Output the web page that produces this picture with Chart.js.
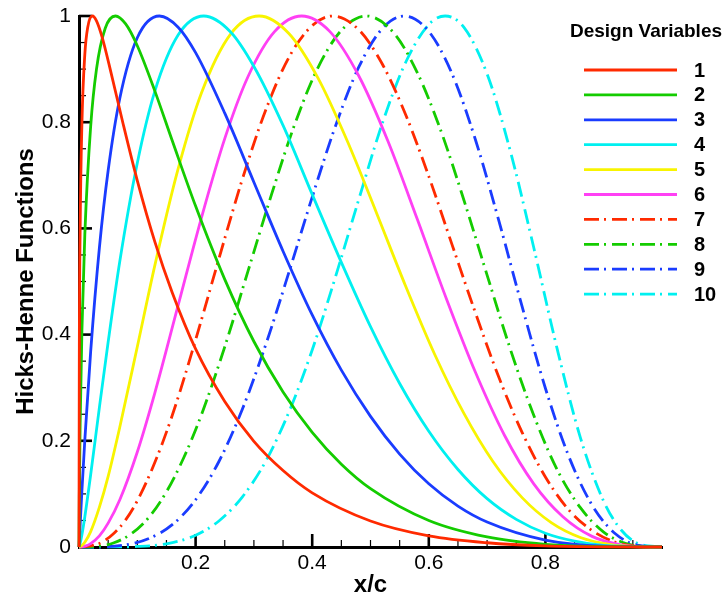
<!DOCTYPE html>
<html>
<head>
<meta charset="utf-8">
<script src="https://cdn.jsdelivr.net/npm/chart.js@4.4.0/dist/chart.umd.min.js"></script>
<style>
  html, body { margin: 0; padding: 0; background: #fff; }
  #wrap { width: 725px; height: 599px; }
</style>
</head>
<body>
<div id="wrap"><canvas id="hh" width="725" height="599"></canvas></div>
<script>
// Hicks-Henne bump functions, one series per design variable (x/c, f)
const x1 = [0, 0.0005, 0.002, 0.005, 0.01, 0.015, 0.023, 0.03, 0.04, 0.055, 0.075, 0.1, 0.13, 0.16, 0.2, 0.25, 0.3, 0.35, 0.4, 0.5, 0.6, 0.7, 0.8, 0.9, 1];
const f1 = [0, 0.345, 0.599, 0.797, 0.928, 0.979, 1, 0.991, 0.959, 0.893, 0.800, 0.690, 0.575, 0.479, 0.373, 0.274, 0.199, 0.144, 0.102, 0.049, 0.021, 0.008, 0.002, 0.0002, 0];

const x2 = [0, 0.0005, 0.002, 0.005, 0.01, 0.02, 0.03, 0.045, 0.0625, 0.08, 0.1, 0.13, 0.16, 0.2, 0.25, 0.3, 0.35, 0.4, 0.45, 0.5, 0.6, 0.7, 0.8, 0.9, 1];
const f2 = [0, 0.093, 0.234, 0.408, 0.589, 0.792, 0.900, 0.977, 1, 0.985, 0.944, 0.859, 0.765, 0.642, 0.504, 0.387, 0.292, 0.216, 0.156, 0.110, 0.050, 0.019, 0.005, 0.0005, 0];

const x3 = [0, 0.001, 0.005, 0.01, 0.02, 0.035, 0.05, 0.07, 0.1, 0.138, 0.17, 0.2, 0.25, 0.3, 0.35, 0.4, 0.45, 0.5, 0.55, 0.6, 0.65, 0.7, 0.8, 0.9, 1];
const f3 = [0, 0.021, 0.106, 0.202, 0.368, 0.564, 0.709, 0.845, 0.959, 1, 0.979, 0.931, 0.817, 0.687, 0.557, 0.437, 0.333, 0.246, 0.175, 0.119, 0.077, 0.047, 0.013, 0.0015, 0];

const x4 = [0, 0.002, 0.005, 0.01, 0.02, 0.035, 0.05, 0.07, 0.1, 0.13, 0.17, 0.214, 0.26, 0.3, 0.35, 0.4, 0.45, 0.5, 0.55, 0.6, 0.65, 0.7, 0.75, 0.8, 0.85, 0.9, 1];
const f4 = [0, 0.007, 0.023, 0.057, 0.136, 0.263, 0.386, 0.538, 0.723, 0.858, 0.964, 1, 0.970, 0.905, 0.794, 0.664, 0.536, 0.415, 0.308, 0.218, 0.146, 0.091, 0.052, 0.026, 0.011, 0.003, 0];

const x5 = [0, 0.005, 0.01, 0.02, 0.035, 0.05, 0.07, 0.1, 0.13, 0.17, 0.21, 0.26, 0.309, 0.36, 0.41, 0.46, 0.51, 0.56, 0.61, 0.66, 0.71, 0.76, 0.81, 0.86, 0.91, 0.96, 1];
const f5 = [0, 0.003, 0.009, 0.029, 0.075, 0.133, 0.226, 0.377, 0.530, 0.712, 0.855, 0.966, 1, 0.967, 0.883, 0.765, 0.630, 0.492, 0.363, 0.252, 0.161, 0.093, 0.046, 0.018, 0.005, 0.0004, 0];

const x6 = [0, 0.01, 0.02, 0.035, 0.05, 0.07, 0.1, 0.13, 0.17, 0.21, 0.25, 0.29, 0.335, 0.382, 0.43, 0.48, 0.53, 0.58, 0.63, 0.68, 0.73, 0.78, 0.83, 0.88, 0.93, 0.97, 1];
const f6 = [0, 0.0015, 0.0065, 0.021, 0.045, 0.089, 0.179, 0.290, 0.455, 0.620, 0.769, 0.886, 0.970, 1, 0.971, 0.887, 0.764, 0.618, 0.468, 0.329, 0.210, 0.119, 0.057, 0.020, 0.004, 0.0003, 0];

const x7 = [0, 0.02, 0.04, 0.06, 0.08, 0.1, 0.13, 0.16, 0.2, 0.24, 0.28, 0.32, 0.36, 0.4, 0.436, 0.48, 0.52, 0.56, 0.6, 0.64, 0.68, 0.72, 0.76, 0.8, 0.84, 0.88, 0.92, 0.96, 1];
const f7 = [0, 0.002, 0.0095, 0.026, 0.051, 0.087, 0.159, 0.248, 0.390, 0.543, 0.692, 0.822, 0.922, 0.982, 1, 0.974, 0.910, 0.815, 0.698, 0.569, 0.441, 0.320, 0.216, 0.132, 0.070, 0.031, 0.009, 0.001, 0];

const x8 = [0, 0.03, 0.06, 0.09, 0.12, 0.15, 0.18, 0.21, 0.25, 0.29, 0.33, 0.37, 0.41, 0.45, 0.493, 0.54, 0.58, 0.62, 0.66, 0.7, 0.74, 0.78, 0.82, 0.86, 0.9, 0.94, 0.97, 1];
const f8 = [0, 0.001, 0.008, 0.025, 0.056, 0.104, 0.169, 0.249, 0.377, 0.520, 0.663, 0.796, 0.903, 0.973, 1, 0.968, 0.894, 0.786, 0.654, 0.512, 0.372, 0.248, 0.146, 0.074, 0.028, 0.006, 0.001, 0];

const x9 = [0, 0.04, 0.08, 0.12, 0.16, 0.2, 0.24, 0.28, 0.32, 0.36, 0.4, 0.44, 0.48, 0.52, 0.558, 0.6, 0.64, 0.68, 0.72, 0.76, 0.8, 0.84, 0.88, 0.92, 0.96, 1];
const f9 = [0, 0.0003, 0.004, 0.016, 0.042, 0.089, 0.161, 0.259, 0.380, 0.517, 0.659, 0.793, 0.904, 0.976, 1, 0.971, 0.891, 0.767, 0.615, 0.453, 0.299, 0.171, 0.079, 0.025, 0.003, 0];

const x10 = [0, 0.05, 0.1, 0.15, 0.2, 0.24, 0.28, 0.32, 0.36, 0.4, 0.44, 0.48, 0.52, 0.56, 0.6, 0.628, 0.66, 0.7, 0.74, 0.78, 0.82, 0.86, 0.9, 0.93, 0.96, 1];
const f10 = [0, 0.0001, 0.001, 0.006, 0.022, 0.049, 0.094, 0.161, 0.254, 0.371, 0.509, 0.655, 0.797, 0.912, 0.984, 1, 0.979, 0.891, 0.745, 0.564, 0.374, 0.206, 0.086, 0.032, 0.006, 0];

const variableNames = ['1', '2', '3', '4', '5', '6', '7', '8', '9', '10'];
const xTickLabels = ['', '0.2', '0.4', '0.6', '0.8', ''];
const yTickLabels = ['0', '0.2', '0.4', '0.6', '0.8', '1'];

const FONT = '"Liberation Sans", Arial, Helvetica, sans-serif';
const colors = ['#ff2a00', '#14cc00', '#1a3cff', '#00f0f0', '#f8f400', '#ff40f4',
                '#ff2a00', '#14cc00', '#1a3cff', '#00f0f0'];
const dashDot = [15, 5, 2, 6];

const xs = [x1, x2, x3, x4, x5, x6, x7, x8, x9, x10];
const fs = [f1, f2, f3, f4, f5, f6, f7, f8, f9, f10];

const datasets = variableNames.map((name, i) => ({
    label: name,
    data: xs[i].map((x, k) => ({ x, y: fs[i][k] })),
    borderColor: colors[i],
    borderWidth: 2.8,
    borderDash: i >= 6 ? dashDot : [],
    pointRadius: 0,
    cubicInterpolationMode: 'monotone',
    fill: false,
    clip: 6
}));

// inward ticks, axis titles and the legend block
const decor = {
    id: 'decor',
    beforeDatasetsDraw(chart) {
        const { ctx, scales: { x, y } } = chart;
        ctx.save();
        ctx.strokeStyle = '#000';
        for (let i = 1; i < 20; i++) {
            const major = i % 4 === 0;
            const px = x.getPixelForValue(i * 0.05);
            ctx.lineWidth = major ? 2.6 : 1.2;
            ctx.beginPath();
            ctx.moveTo(px, y.bottom);
            ctx.lineTo(px, y.bottom - (major ? 13 : 7));
            ctx.stroke();
        }
        for (let i = 1; i <= 20; i++) {
            const major = i % 4 === 0;
            const py = y.getPixelForValue(i * 0.05);
            ctx.lineWidth = major ? 2.6 : 1.2;
            ctx.beginPath();
            ctx.moveTo(x.left, py);
            ctx.lineTo(x.left + (major ? 13 : 7), py);
            ctx.stroke();
        }
        ctx.restore();
    },
    afterDraw(chart) {
        const { ctx, chartArea } = chart;
        ctx.save();
        ctx.fillStyle = '#000';

        // axis titles
        ctx.font = `bold 24px ${FONT}`;
        ctx.textAlign = 'center';
        ctx.textBaseline = 'alphabetic';
        ctx.fillText('x/c', (chartArea.left + chartArea.right) / 2, 592);
        ctx.save();
        ctx.translate(33, (chartArea.top + chartArea.bottom) / 2);
        ctx.rotate(-Math.PI / 2);
        ctx.fillText('Hicks-Henne Functions', 0, 0);
        ctx.restore();

        // legend
        ctx.font = `bold 19px ${FONT}`;
        ctx.textBaseline = 'middle';
        ctx.fillText('Design Variables', 646, 32);
        ctx.font = `bold 20px ${FONT}`;
        ctx.textAlign = 'left';
        chart.data.datasets.forEach((ds, i) => {
            const ly = 70 + i * 24.9;
            ctx.strokeStyle = ds.borderColor;
            ctx.lineWidth = 2.8;
            ctx.setLineDash(ds.borderDash);
            ctx.beginPath();
            ctx.moveTo(584, ly);
            ctx.lineTo(677, ly);
            ctx.stroke();
            ctx.fillText(ds.label, 694, ly + 1);
        });
        ctx.restore();
    }
};

new Chart(document.getElementById('hh'), {
    type: 'line',
    data: { datasets },
    plugins: [decor],
    options: {
        responsive: false,
        devicePixelRatio: 1,
        animation: false,
        layout: { padding: { top: 16, right: 63, left: 0, bottom: 0 } },
        plugins: { legend: { display: false }, tooltip: { enabled: false } },
        scales: {
            x: {
                type: 'linear',
                min: 0,
                max: 1,
                afterFit: s => { s.height = 52; },
                grid: { display: false, drawTicks: false },
                border: { display: true, color: '#000', width: 3 },
                ticks: {
                    stepSize: 0.2,
                    padding: 4,
                    color: '#000',
                    maxRotation: 0,
                    font: { family: FONT, size: 21 },
                    callback: (v, i) => xTickLabels[i]
                }
            },
            y: {
                type: 'linear',
                min: 0,
                max: 1,
                afterFit: s => { s.width = 79; s.paddingTop = 0; s.paddingBottom = 0; },
                grid: { display: false, drawTicks: false },
                border: { display: true, color: '#000', width: 3 },
                ticks: {
                    stepSize: 0.2,
                    padding: 8,
                    color: '#000',
                    font: { family: FONT, size: 21 },
                    callback: (v, i) => yTickLabels[i]
                }
            }
        }
    }
});
</script>
</body>
</html>
